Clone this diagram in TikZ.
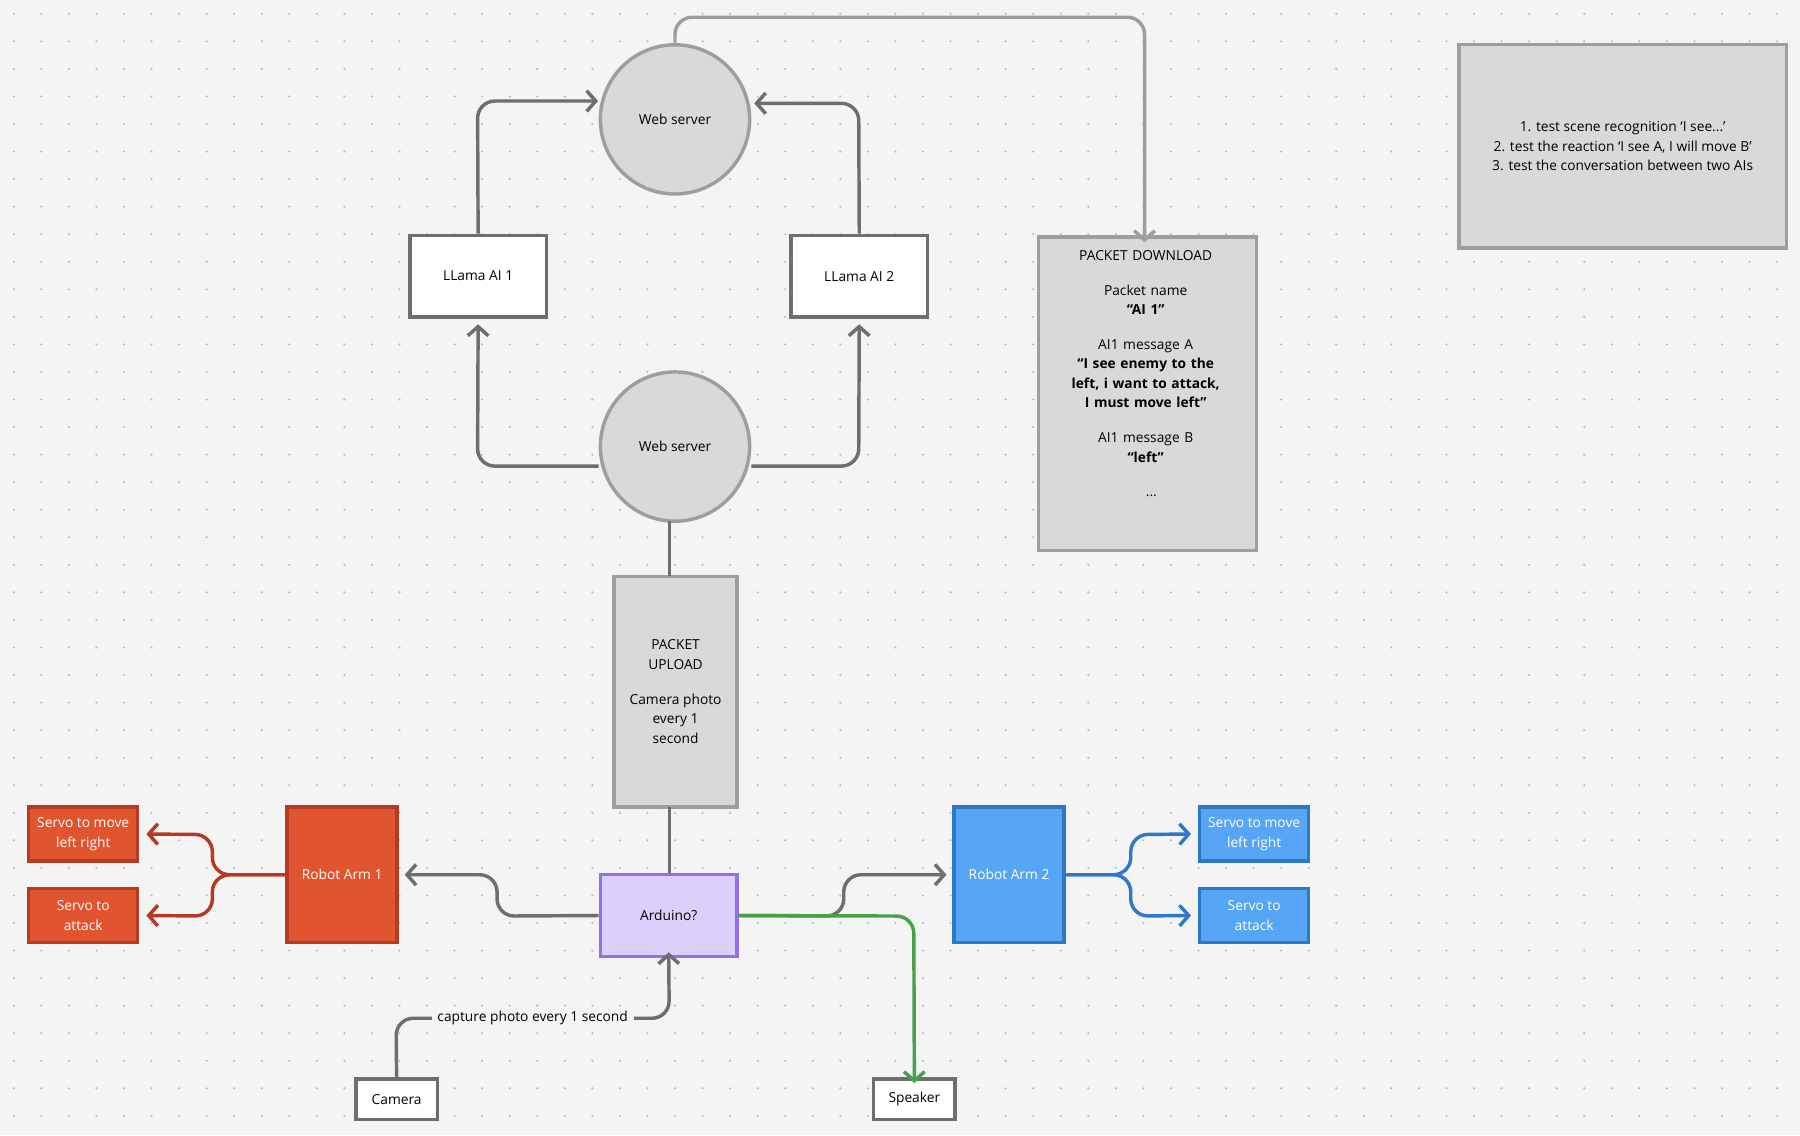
\documentclass[tikz,border=0pt]{standalone}
\usepackage{fontspec}
\setmainfont{Open Sans}
\usetikzlibrary{arrows.meta}
\definecolor{bg}{HTML}{F4F4F4}
\definecolor{gfill}{HTML}{D9D9D9}
\definecolor{gline}{HTML}{9E9E9E}
\definecolor{dline}{HTML}{6E6E6E}
\definecolor{rfill}{HTML}{E0552F}
\definecolor{rline}{HTML}{B53A22}
\definecolor{bfill}{HTML}{57A5F5}
\definecolor{bline}{HTML}{2F78C8}
\definecolor{pfill}{HTML}{DAD0FA}
\definecolor{pline}{HTML}{9470E8}
\definecolor{green}{HTML}{48A048}
\begin{document}
\begin{tikzpicture}[x=1pt,y=-1pt,
  every node/.style={font=\fontsize{12}{17}\selectfont, inner sep=0pt},
  box/.style={draw=dline, line width=3pt, fill=white, minimum width=119pt, minimum height=71pt},
  gbox/.style={draw=gline, line width=3pt, fill=gfill, align=center},
  circ/.style={circle, draw=gline, line width=3pt, fill=gfill, minimum size=130pt},
  red/.style={draw=rline, line width=3pt, fill=rfill, text=white, align=center},
  blue/.style={draw=bline, line width=3pt, fill=bfill, text=white, align=center},
  conn/.style={line width=3pt, draw=dline, rounded corners=15pt},
  arr/.style={-{Straight Barb[length=8pt,width=18pt,line width=3pt]}}
]
\fill[bg] (0,0) rectangle (1568,989);
\useasboundingbox (0,0) rectangle (1568,989);
\foreach \i in {0,...,65}{\foreach \j in {0,...,41}{\fill[gray!55] (12+24*\i,12+24*\j) circle (1pt);}}

\node[circ] (ws1) at (588,104) {Web server};
\node[circ] (ws2) at (588,389) {Web server};
\node[box] (l1) at (416.5,240.5) {LLama AI 1};
\node[box] (l2) at (748.5,240.5) {LLama AI 2};
\node[gbox, minimum width=190pt, minimum height=273pt, anchor=north west] (pd) at (903,205) {};
\node[align=center, text width=170pt, anchor=north] at (998,218) {PACKET DOWNLOAD\\[1.1em]Packet name\\\textbf{“AI 1”}\\[1.1em]AI1 message A\\\textbf{“I see enemy to the left, i want to attack, I must move left”}\\[1.1em]AI1 message B\\\textbf{“left”}\\[1.1em]\hspace*{10pt}...};
\node[gbox, minimum width=285pt, minimum height=177pt] (notes) at (1413.5,127.5) {1. test scene recognition ‘I see...’\\2. test the reaction ‘I see A, I will move B’\\3. test the conversation between two AIs};
\node[gbox, minimum width=107pt, minimum height=201pt] (pu) at (588.5,602.5) {PACKET\\UPLOAD\\[1.1em]Camera photo\\every 1\\second};
\node[draw=pline, line width=3pt, fill=pfill, minimum width=119pt, minimum height=71pt] (ard) at (582.5,797.5) {Arduino?};
\node[red, minimum width=96pt, minimum height=118pt] (ra1) at (298,762) {Robot Arm 1};
\node[blue, minimum width=96pt, minimum height=118pt] (ra2) at (879,762) {Robot Arm 2};
\node[red, minimum width=95pt, minimum height=47pt] (s1) at (72.5,726.5) {Servo to move\\left right};
\node[red, minimum width=95pt, minimum height=47pt] (s2) at (72.5,797.5) {Servo to\\attack};
\node[blue, minimum width=95pt, minimum height=47pt] (s3) at (1092.5,726.5) {Servo to move\\left right};
\node[blue, minimum width=95pt, minimum height=47pt] (s4) at (1092.5,797.5) {Servo to\\attack};
\node[box, minimum width=71pt, minimum height=35pt] (cam) at (345.5,957.5) {Camera};
\node[box, minimum width=71pt, minimum height=35pt] (spk) at (796.5,957.5) {Speaker};

% connectors
\draw[conn, arr] (l1.north) -- (416,88) -- (521,88);
\draw[conn, arr] (l2.north) -- (748,90) -- (657,90);
\draw[conn, arr] (ws2.west|-0,406) -- (416,406) -- ([yshift=-5pt]l1.south);
\draw[conn, arr] (ws2.east|-0,406) -- (748,406) -- ([yshift=-5pt]l2.south);
\draw[conn, draw=gline, arr] (ws1.north) -- (588,15) -- (997,15) -- ([yshift=-6pt]pd.north-|997,0);
\draw[conn] (583,454) -- (583,502);
\draw[conn] (583,703) -- (ard.north-|583,0);
\draw[conn, arr] (ard.west) -- (433,798) -- (433,762) -- ([xshift=5pt]ra1.east);
\draw[conn, arr] (ard.east) -- (735,798) -- (735,762) -- ([xshift=-5pt]ra2.west);
\draw[conn, draw=green, arr] (ard.east) -- (796,798) -- ([yshift=-5pt]spk.north);
\draw[conn, arr] (cam.north) -- (345,887) -- (583,887) -- ([yshift=5pt]ard.south);
\node[fill=bg, inner xsep=5pt, inner ysep=3pt] at (464,887) {capture photo every 1 second};
\draw[conn, draw=rline, arr] (ra1.west) -- (185,762) -- (185,727) -- ([xshift=6pt]s1.east);
\draw[conn, draw=rline, arr] (ra1.west) -- (185,762) -- (185,798) -- ([xshift=6pt]s2.east);
\draw[conn, draw=bline, arr] (ra2.east) -- (985,762) -- (985,727) -- ([xshift=-6pt]s3.west);
\draw[conn, draw=bline, arr] (ra2.east) -- (985,762) -- (985,798) -- ([xshift=-6pt]s4.west);
\end{tikzpicture}
\end{document}
